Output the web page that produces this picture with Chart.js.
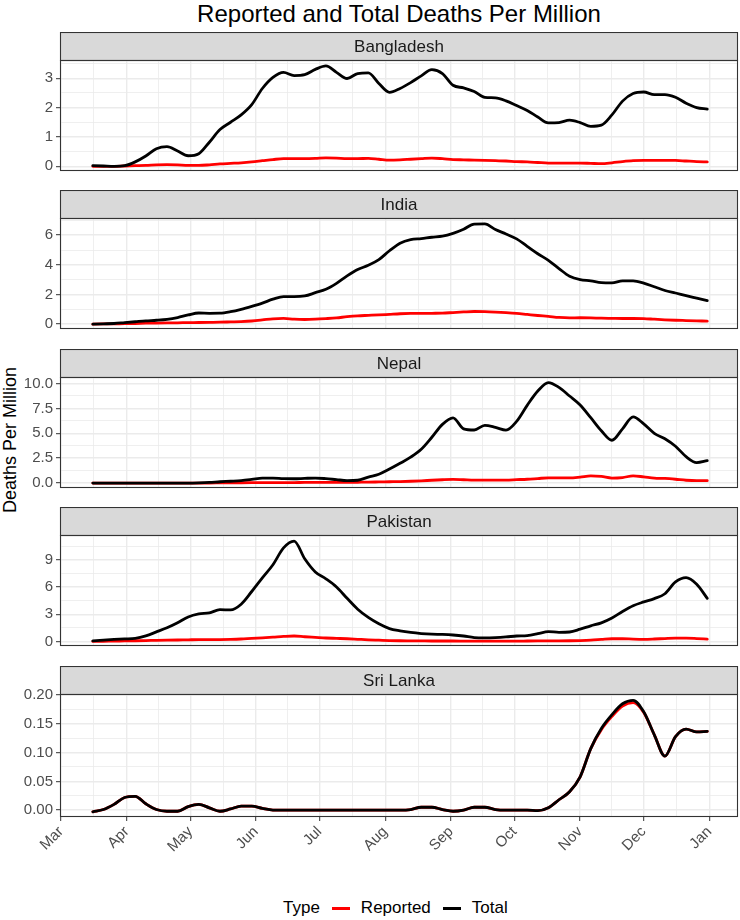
<!DOCTYPE html>
<html lang="en">
<head>
  <meta charset="UTF-8" />
  <title>Reported and Total Deaths Per Million</title>
  <script src="https://cdn.jsdelivr.net/npm/chart.js"></script>
  <style>
    body {
      margin: 0;
      width: 740px;
      height: 920px;
      position: relative;
      overflow: hidden;
      background: #ffffff;
      font-family: "Liberation Sans", Arial, sans-serif;
    }
    #title {
      position: absolute;
      left: 60px;
      width: 678px;
      top: 0;
      height: 28px;
      line-height: 28px;
      text-align: center;
      font-size: 24px;
      color: #000;
    }
    #ylab {
      position: absolute;
      left: 10px;
      top: 440px;
      transform: translate(-50%, -50%) rotate(-90deg);
      font-size: 18px;
      white-space: nowrap;
      color: #000;
    }
    .facet {
      position: absolute;
      left: 0;
    }
    .facet canvas {
      display: block;
    }
    #legend {
      position: absolute;
      left: 283px;
      top: 896px;
      height: 24px;
      display: flex;
      align-items: center;
      font-size: 17px;
      color: #000;
      white-space: nowrap;
    }
    .key {
      display: inline-block;
      width: 18px;
      height: 3px;
      margin: 0 11px 0 12px;
    }
  </style>
</head>
<body>
  <div id="title">Reported and Total Deaths Per Million</div>
  <div id="ylab">Deaths Per Million</div>
  <div id="facets"></div>
  <div id="legend">
    <span>Type</span><span class="key" style="background:#ff0000"></span><span>Reported</span><span class="key" style="background:#000000"></span><span>Total</span>
  </div>

  <script>
    const dates = [
      "2020-03-16", "2020-03-21", "2020-03-26", "2020-03-31", "2020-04-05", "2020-04-10", "2020-04-15", "2020-04-20", "2020-04-25", "2020-04-30",
      "2020-05-05", "2020-05-10", "2020-05-15", "2020-05-20", "2020-05-25", "2020-05-30", "2020-06-04", "2020-06-09", "2020-06-14", "2020-06-19",
      "2020-06-24", "2020-06-29", "2020-07-04", "2020-07-09", "2020-07-14", "2020-07-19", "2020-07-24", "2020-07-29", "2020-08-03", "2020-08-08",
      "2020-08-13", "2020-08-18", "2020-08-23", "2020-08-28", "2020-09-02", "2020-09-07", "2020-09-12", "2020-09-17", "2020-09-22", "2020-09-27",
      "2020-10-02", "2020-10-07", "2020-10-12", "2020-10-17", "2020-10-22", "2020-10-27", "2020-11-01", "2020-11-06", "2020-11-11", "2020-11-16",
      "2020-11-21", "2020-11-26", "2020-12-01", "2020-12-06", "2020-12-11", "2020-12-16", "2020-12-21", "2020-12-26", "2020-12-31"
    ];

    const bangladeshReported = [
      0.00, 0.00, 0.00, 0.01, 0.02, 0.03, 0.05, 0.06, 0.05, 0.03,
      0.03, 0.05, 0.08, 0.10, 0.12, 0.15, 0.19, 0.23, 0.26, 0.26,
      0.26, 0.27, 0.29, 0.28, 0.26, 0.26, 0.27, 0.24, 0.21, 0.22,
      0.24, 0.26, 0.28, 0.26, 0.23, 0.22, 0.21, 0.20, 0.19, 0.18,
      0.16, 0.15, 0.13, 0.11, 0.11, 0.11, 0.11, 0.10, 0.09, 0.12,
      0.16, 0.19, 0.20, 0.20, 0.20, 0.20, 0.18, 0.16, 0.15
    ];
    const bangladeshTotal = [
      0.02, 0.01, 0.00, 0.02, 0.15, 0.35, 0.60, 0.67, 0.52, 0.36,
      0.43, 0.82, 1.25, 1.50, 1.75, 2.10, 2.65, 3.03, 3.20, 3.09,
      3.12, 3.30, 3.42, 3.20, 2.99, 3.16, 3.18, 2.82, 2.52, 2.65,
      2.85, 3.08, 3.29, 3.16, 2.76, 2.67, 2.55, 2.35, 2.33, 2.23,
      2.07, 1.90, 1.68, 1.48, 1.49, 1.57, 1.49, 1.36, 1.40, 1.75,
      2.22, 2.48, 2.53, 2.44, 2.44, 2.35, 2.15, 2.00, 1.95
    ];

    const indiaReported = [
      0.00, 0.01, 0.02, 0.03, 0.04, 0.06, 0.07, 0.08, 0.09, 0.10,
      0.11, 0.12, 0.13, 0.15, 0.17, 0.21, 0.28, 0.36, 0.39, 0.33,
      0.31, 0.33, 0.37, 0.42, 0.50, 0.56, 0.59, 0.62, 0.66, 0.70,
      0.72, 0.72, 0.73, 0.74, 0.78, 0.82, 0.85, 0.84, 0.81, 0.77,
      0.72, 0.65, 0.58, 0.52, 0.45, 0.42, 0.43, 0.42, 0.40, 0.39,
      0.38, 0.38, 0.37, 0.33, 0.29, 0.26, 0.24, 0.22, 0.20
    ];
    const indiaTotal = [
      0.00, 0.02, 0.04, 0.10, 0.16, 0.22, 0.26, 0.32, 0.44, 0.62,
      0.75, 0.73, 0.74, 0.84, 1.00, 1.20, 1.42, 1.68, 1.86, 1.85,
      1.90, 2.12, 2.35, 2.75, 3.25, 3.68, 3.97, 4.35, 4.95, 5.46,
      5.70, 5.77, 5.86, 5.93, 6.12, 6.40, 6.75, 6.76, 6.38, 6.08,
      5.75, 5.25, 4.75, 4.30, 3.75, 3.23, 3.00, 2.92, 2.80, 2.78,
      2.92, 2.92, 2.77, 2.52, 2.27, 2.10, 1.92, 1.75, 1.58
    ];

    const nepalReported = [
      0.00, 0.00, 0.00, 0.00, 0.00, 0.00, 0.00, 0.00, 0.00, 0.00,
      0.00, 0.00, 0.01, 0.02, 0.03, 0.04, 0.05, 0.05, 0.05, 0.05,
      0.06, 0.06, 0.06, 0.07, 0.07, 0.08, 0.09, 0.11, 0.13, 0.15,
      0.18, 0.22, 0.28, 0.33, 0.36, 0.33, 0.30, 0.30, 0.30, 0.30,
      0.34, 0.38, 0.45, 0.52, 0.52, 0.52, 0.60, 0.72, 0.66, 0.50,
      0.55, 0.72, 0.62, 0.50, 0.46, 0.38, 0.28, 0.24, 0.24
    ];
    const nepalTotal = [
      0.00, 0.00, 0.00, 0.00, 0.00, 0.00, 0.00, 0.00, 0.00, 0.00,
      0.02, 0.06, 0.13, 0.18, 0.24, 0.36, 0.50, 0.50, 0.44, 0.43,
      0.47, 0.50, 0.44, 0.34, 0.25, 0.28, 0.60, 0.88, 1.40, 1.98,
      2.60, 3.40, 4.60, 5.90, 6.55, 5.45, 5.33, 5.80, 5.60, 5.32,
      6.20, 7.81, 9.25, 10.10, 9.62, 8.75, 7.85, 6.57, 5.25, 4.30,
      5.45, 6.65, 5.95, 5.00, 4.45, 3.70, 2.65, 2.05, 2.25
    ];

    const pakistanReported = [
      0.00, 0.02, 0.04, 0.06, 0.08, 0.10, 0.12, 0.14, 0.16, 0.18,
      0.20, 0.20, 0.21, 0.23, 0.27, 0.34, 0.40, 0.47, 0.55, 0.60,
      0.52, 0.45, 0.38, 0.34, 0.30, 0.24, 0.18, 0.14, 0.10, 0.08,
      0.07, 0.06, 0.05, 0.05, 0.05, 0.04, 0.03, 0.03, 0.03, 0.04,
      0.04, 0.05, 0.06, 0.07, 0.07, 0.08, 0.10, 0.14, 0.22, 0.30,
      0.30, 0.26, 0.24, 0.27, 0.32, 0.36, 0.36, 0.32, 0.26
    ];
    const pakistanTotal = [
      0.07, 0.15, 0.22, 0.28, 0.35, 0.62, 1.05, 1.50, 2.05, 2.70,
      3.03, 3.14, 3.50, 3.47, 4.10, 5.50, 7.00, 8.45, 10.30, 11.05,
      9.10, 7.65, 6.90, 6.00, 4.75, 3.55, 2.65, 1.95, 1.42, 1.17,
      0.99, 0.87, 0.80, 0.77, 0.71, 0.60, 0.43, 0.40, 0.43, 0.50,
      0.60, 0.65, 0.85, 1.09, 1.00, 1.04, 1.35, 1.72, 2.05, 2.58,
      3.30, 3.93, 4.35, 4.72, 5.25, 6.55, 7.02, 6.30, 4.75
    ];

    const sriLankaReported = [
      -0.003, 0.001, 0.010, 0.022, 0.024, 0.011, 0.001, -0.002, -0.002, 0.006,
      0.010, 0.004, -0.002, 0.002, 0.007, 0.007, 0.003, 0.000, 0.000, 0.000,
      0.000, 0.000, 0.000, 0.000, 0.000, 0.000, 0.000, 0.000, 0.000, 0.000,
      0.001, 0.005, 0.005, 0.001, -0.002, 0.000, 0.005, 0.005, 0.001, 0.000,
      0.000, 0.000, -0.001, 0.004, 0.018, 0.032, 0.058, 0.107, 0.140, 0.163,
      0.181, 0.187, 0.170, 0.131, 0.094, 0.128, 0.141, 0.136, 0.137
    ];
    const sriLankaTotal = [
      -0.003, 0.001, 0.010, 0.022, 0.024, 0.011, 0.001, -0.002, -0.002, 0.006,
      0.010, 0.004, -0.002, 0.002, 0.007, 0.007, 0.003, 0.000, 0.000, 0.000,
      0.000, 0.000, 0.000, 0.000, 0.000, 0.000, 0.000, 0.000, 0.000, 0.000,
      0.001, 0.005, 0.005, 0.001, -0.002, 0.000, 0.005, 0.005, 0.001, 0.000,
      0.000, 0.000, -0.001, 0.004, 0.018, 0.032, 0.058, 0.107, 0.142, 0.166,
      0.185, 0.191, 0.171, 0.131, 0.094, 0.128, 0.141, 0.136, 0.137
    ];

    // y tick labels per facet
    const bangladeshTicks = ["0", "1", "2", "3"];
    const indiaTicks = ["0", "2", "4", "6"];
    const nepalTicks = ["0.0", "2.5", "5.0", "7.5", "10.0"];
    const pakistanTicks = ["0", "3", "6", "9"];
    const sriLankaTicks = ["0.00", "0.05", "0.10", "0.15", "0.20"];

    const monthLabels = ["Mar", "Apr", "May", "Jun", "Jul", "Aug", "Sep", "Oct", "Nov", "Dec", "Jan"];
    const monthStarts = ["2020-03-01", "2020-04-01", "2020-05-01", "2020-06-01", "2020-07-01", "2020-08-01",
                         "2020-09-01", "2020-10-01", "2020-11-01", "2020-12-01", "2021-01-01"];

    // days since 1 Mar 2020 (no date adapter available, so x is a plain linear axis)
    const origin = Date.parse("2020-03-01");
    const toDay = d => (Date.parse(d) - origin) / 86400000;
    const days = dates.map(toDay);
    const monthDays = monthStarts.map(toDay);

    const facets = [
      { name: "Bangladesh", reported: bangladeshReported, total: bangladeshTotal, ticks: bangladeshTicks, min: -0.16, max: 3.62 },
      { name: "India", reported: indiaReported, total: indiaTotal, ticks: indiaTicks, min: -0.33, max: 7.16 },
      { name: "Nepal", reported: nepalReported, total: nepalTotal, ticks: nepalTicks, min: -0.5, max: 10.66 },
      { name: "Pakistan", reported: pakistanReported, total: pakistanTotal, ticks: pakistanTicks, min: -0.5, max: 11.72 },
      { name: "Sri Lanka", reported: sriLankaReported, total: sriLankaTotal, ticks: sriLankaTicks, min: -0.012, max: 0.202 }
    ];

    const FONT = '"Liberation Sans", Arial, sans-serif';
    Chart.defaults.font.family = FONT;
    Chart.defaults.color = '#4d4d4d';

    const STRIP = 28, PANEL = 123, XAXIS = 45;
    const tops = [32, 190, 349, 507, 666];

    // major ticks plus ggplot-style minor lines half way between
    function yTicks(labels, lo, hi) {
      const values = labels.map(parseFloat);
      const step = values[1] - values[0];
      const list = values.map((v, i) => ({ value: v, text: labels[i], minor: false }));
      values.forEach(v => list.push({ value: v + step / 2, text: '', minor: true }));
      list.push({ value: values[0] - step / 2, text: '', minor: true });
      return list.filter(t => t.value >= lo && t.value <= hi).sort((a, b) => a.value - b.value);
    }

    function xTicks(lo, hi) {
      const list = monthDays.map((v, i) => ({ value: v, text: monthLabels[i], minor: false }));
      for (let i = 0; i < monthDays.length - 1; i++) {
        list.push({ value: (monthDays[i] + monthDays[i + 1]) / 2, text: '', minor: true });
      }
      return list.filter(t => t.value >= lo && t.value <= hi).sort((a, b) => a.value - b.value);
    }

    const gridStyle = showTicks => ({
      color: '#ebebeb',
      lineWidth: c => (c.tick && c.tick.minor) ? 0.8 : 1.4,
      drawTicks: showTicks,
      tickLength: 4,
      tickWidth: 1,
      tickColor: c => (c.tick && c.tick.minor) ? 'rgba(0,0,0,0)' : '#333333'
    });

    // grey strip with the facet name on top, and the dark panel border
    const facetFrame = {
      id: 'facetFrame',
      beforeDraw(chart, args, opts) {
        const { ctx, chartArea: a } = chart;
        ctx.save();
        ctx.fillStyle = '#d9d9d9';
        ctx.fillRect(a.left, a.top - STRIP, a.right - a.left, STRIP);
        ctx.strokeStyle = '#333333';
        ctx.lineWidth = 1.1;
        ctx.strokeRect(a.left + 0.5, a.top - STRIP + 0.5, a.right - a.left - 1, STRIP);
        ctx.fillStyle = '#1a1a1a';
        ctx.font = '17px ' + FONT;
        ctx.textAlign = 'center';
        ctx.textBaseline = 'middle';
        ctx.fillText(opts.label, (a.left + a.right) / 2, a.top - STRIP / 2 + 1);
        ctx.restore();
      },
      afterDraw(chart) {
        const { ctx, chartArea: a } = chart;
        ctx.save();
        ctx.strokeStyle = '#333333';
        ctx.lineWidth = 1.1;
        ctx.strokeRect(a.left + 0.5, a.top + 0.5, a.right - a.left - 1, a.bottom - a.top - 1);
        ctx.restore();
      }
    };

    facets.forEach((f, i) => {
      const last = i === facets.length - 1;
      const wrap = document.createElement('div');
      wrap.className = 'facet';
      wrap.style.top = tops[i] + 'px';
      const canvas = document.createElement('canvas');
      canvas.width = 740;
      canvas.height = STRIP + PANEL + (last ? XAXIS : 0);
      wrap.appendChild(canvas);
      document.getElementById('facets').appendChild(wrap);

      new Chart(canvas, {
        type: 'line',
        data: {
          datasets: [
            {
              label: 'Total',
              data: f.total.map((v, k) => ({ x: days[k], y: v })),
              borderColor: '#000000',
              borderWidth: 2.8,
              order: 0
            },
            {
              label: 'Reported',
              data: f.reported.map((v, k) => ({ x: days[k], y: v })),
              borderColor: '#ff0000',
              borderWidth: 2.8,
              order: 1
            }
          ]
        },
        options: {
          responsive: false,
          animation: false,
          layout: { padding: { top: STRIP, right: 2, left: 0, bottom: 0 } },
          elements: {
            point: { radius: 0 },
            line: { cubicInterpolationMode: 'monotone', borderJoinStyle: 'round', borderCapStyle: 'round' }
          },
          plugins: {
            legend: { display: false },
            tooltip: { enabled: false },
            facetFrame: { label: f.name }
          },
          scales: {
            x: {
              type: 'linear',
              min: -0.5,
              max: 319.5,
              bounds: 'data',
              afterBuildTicks: a => { a.ticks = xTicks(a.min, a.max); },
              afterFit: a => { a.height = last ? XAXIS : 0; },
              ticks: {
                display: last,
                autoSkip: false,
                minRotation: 45,
                maxRotation: 45,
                padding: 2,
                font: { size: 15 },
                color: '#4d4d4d',
                callback: (v, k, t) => t[k].text
              },
              grid: gridStyle(last),
              border: { display: false }
            },
            y: {
              min: f.min,
              max: f.max,
              bounds: 'data',
              afterBuildTicks: a => { a.ticks = yTicks(f.ticks, a.min, a.max); },
              afterFit: a => { a.width = 60; },
              ticks: {
                autoSkip: false,
                padding: 3,
                font: { size: 15 },
                color: '#4d4d4d',
                callback: (v, k, t) => t[k].text
              },
              grid: gridStyle(true),
              border: { display: false }
            }
          }
        },
        plugins: [facetFrame]
      });
    });
  </script>
</body>
</html>
